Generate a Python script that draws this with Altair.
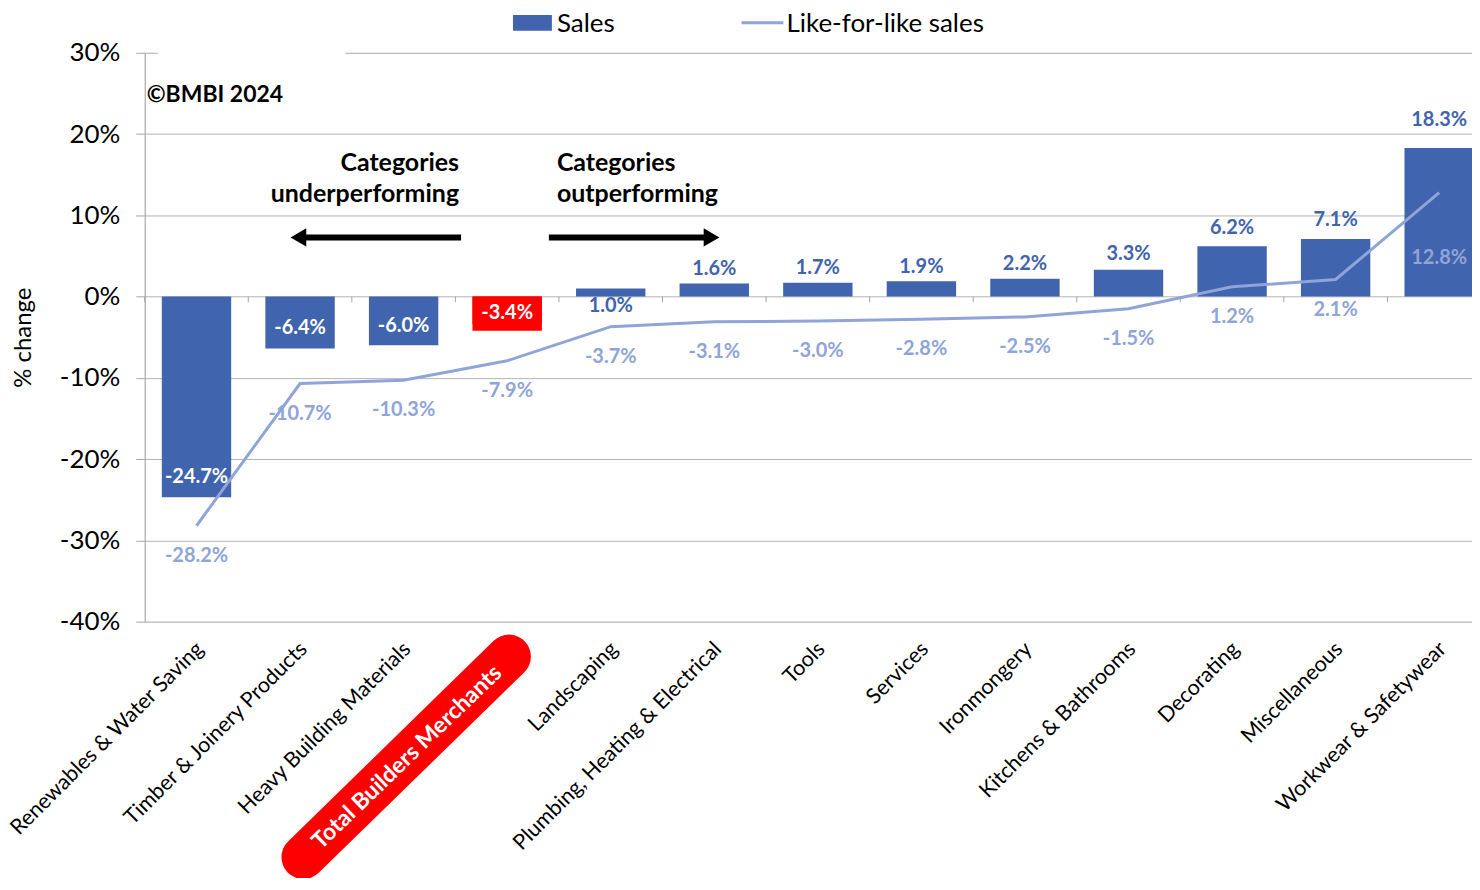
import altair as alt
import pandas as pd

categories = [
    "Renewables & Water Saving", "Timber & Joinery Products", "Heavy Building Materials",
    "Total Builders Merchants", "Landscaping", "Plumbing, Heating & Electrical", "Tools",
    "Services", "Ironmongery", "Kitchens & Bathrooms", "Decorating", "Miscellaneous",
    "Workwear & Safetywear",
]
sales = [-24.7, -6.4, -6.0, -3.4, 1.0, 1.6, 1.7, 1.9, 2.2, 3.3, 6.2, 7.1, 18.3]
lfl = [-28.2, -10.7, -10.3, -7.9, -3.7, -3.1, -3.0, -2.8, -2.5, -1.5, 1.2, 2.1, 12.8]
total_name = "Total Builders Merchants"

BAR = "#4064AE"
LINE = "#8FA4D8"
RED = "#FF0000"
FONT = "Lato"

df = pd.DataFrame({"cat": categories, "sales": sales, "lfl": lfl})
df["is_total"] = df["cat"] == total_name

xscale = alt.Scale(domain=categories, range=[0, 1349], paddingInner=0.33, paddingOuter=0.165)
yscale = alt.Scale(domain=[-40, 30], nice=False, zero=False)


def xplain():
    return alt.X("cat:N", scale=xscale, sort=categories, axis=None)


x_enc = alt.X("cat:N", scale=xscale, sort=categories, title=None,
              axis=alt.Axis(labelAngle=-45, labelAlign="right", labelBaseline="middle",
                            labelFont=FONT, labelFontSize=21.5, labelColor="black",
                            labelLimit=500, labelOverlap=False, labelPadding=24, labelOffset=4,
                            ticks=False, domain=False, grid=False,
                            labelExpr=f"datum.value == '{total_name}' ? '' : datum.value"))
y_enc = alt.Y("sales:Q", scale=yscale, title="% change",
              axis=alt.Axis(values=[-40, -30, -20, -10, 0, 10, 20, 30],
                            labelExpr="datum.value + '%'", labelFont=FONT, labelFontSize=26,
                            labelColor="black", labelPadding=16, tickSize=9, tickColor="#A6A6A6",
                            domainColor="#A6A6A6", gridColor="#B4B4B4", grid=True,
                            titleFont=FONT, titleFontSize=24, titleFontWeight="normal",
                            titleColor="black", titlePadding=24))

base = alt.Chart(df)

bars = base.mark_bar().encode(
    x=x_enc, y=y_enc, y2=alt.Y2(datum=0),
    color=alt.condition("datum.is_total", alt.value(RED), alt.value(BAR)),
)

# red label background for the total
total_bg = base.transform_filter("datum.is_total").mark_bar(color=RED).encode(
    x=xplain(),
    y=alt.Y(datum=0, scale=yscale), y2=alt.Y2(datum=-4.2),
)

line = base.mark_line(color=LINE, strokeWidth=3).encode(
    x=xplain(),
    y=alt.Y("lfl:Q", scale=yscale),
)

sales_lab = base.transform_calculate(
    ly="datum.sales < -10 ? datum.sales + 2.5 : (datum.sales < 0 ? datum.sales * 0.6 : (datum.sales < 1.5 ? -1.2 : datum.sales * 1.1 + 1.6))",
    txt="replace(format(datum.sales, '.1f'), '\u2212', '-') + '%'",
    inside="datum.sales < 0",
).mark_text(font=FONT, fontSize=20, fontWeight="bold", baseline="middle").encode(
    x=xplain(),
    y=alt.Y("ly:Q", scale=yscale),
    text="txt:N",
    color=alt.condition("datum.inside", alt.value("white"), alt.value(BAR)),
)

lfl_lab = base.transform_calculate(
    ly="datum.lfl > 10 ? datum.lfl - 8 : datum.lfl - 3.7",
    txt="replace(format(datum.lfl, '.1f'), '\u2212', '-') + '%'",
).mark_text(font=FONT, fontSize=20, fontWeight="bold", baseline="middle", color=LINE).encode(
    x=xplain(),
    y=alt.Y("ly:Q", scale=yscale),
    text="txt:N",
)

# category boundary ticks along the zero line
bscale = alt.Scale(domain=categories, range=[0, 1349], paddingInner=0, paddingOuter=0)
zero_ticks = base.mark_rule(color="#A6A6A6", strokeWidth=1).encode(
    x=alt.X("cat:N", scale=bscale, sort=categories, bandPosition=0, axis=None),
    y=alt.Y(datum=0, scale=yscale), y2=alt.Y2(datum=-0.7),
)

# Annotations (decorations, placed in pixels relative to plot origin)
def txt(s, x, y, align="left", size=24, weight="bold", color="black", angle=0):
    return alt.Chart(pd.DataFrame({"t": [s]})).mark_text(
        font=FONT, fontSize=size, fontWeight=weight, align=align, baseline="middle",
        color=color, angle=angle,
    ).encode(text="t:N", x=alt.value(x), y=alt.value(y))

one = pd.DataFrame({"a": [0]})
grid_gap = alt.Chart(one).mark_rule(color="white", strokeWidth=3).encode(
    x=alt.value(13), x2=alt.value(201), y=alt.value(0))
legend_rect = alt.Chart(one).mark_rect(color=BAR).encode(
    x=alt.value(369), x2=alt.value(408), y=alt.value(-38), y2=alt.value(-22))
legend_line = alt.Chart(one).mark_rule(color=LINE, strokeWidth=3).encode(
    x=alt.value(598), x2=alt.value(640), y=alt.value(-30))
leg_t1 = txt("Sales", 413, -29, weight="normal", size=26)
leg_t2 = txt("Like-for-like sales", 643, -29, weight="normal", size=26)

copy_t = txt("©BMBI 2024", 2, 42, size=23)
under1 = txt("Categories", 315, 110, align="right", size=25)
under2 = txt("underperforming", 315, 142, align="right", size=25)
out1 = txt("Categories", 413, 110, size=25)
out2 = txt("outperforming", 413, 142, size=25)

arrow_l = alt.Chart(one).mark_rule(color="black", strokeWidth=6).encode(
    x=alt.value(160), x2=alt.value(317), y=alt.value(185))
head_l = alt.Chart(one).mark_point(shape="triangle-left", filled=True, color="black",
                                   size=330, opacity=1).encode(x=alt.value(154), y=alt.value(185))
arrow_r = alt.Chart(one).mark_rule(color="black", strokeWidth=6).encode(
    x=alt.value(405), x2=alt.value(562), y=alt.value(185))
head_r = alt.Chart(one).mark_point(shape="triangle-right", filled=True, color="black",
                                   size=330, opacity=1).encode(x=alt.value(568), y=alt.value(185))

total_box = alt.Chart(one).mark_rule(color=RED, strokeWidth=44, strokeCap="round").encode(
    x=alt.value(365), y=alt.value(605), x2=alt.value(159), y2=alt.value(806))
total_txt = txt(total_name, 263, 706, align="center", size=23, color="white", angle=316)

chart = alt.layer(
    grid_gap, bars, total_bg, zero_ticks, line, sales_lab, lfl_lab,
    legend_rect, legend_line, leg_t1, leg_t2,
    copy_t, under1, under2, out1, out2,
    arrow_l, head_l, arrow_r, head_r,
    total_box, total_txt,
).resolve_scale(x="independent").properties(
    width=1330, height=570,
    autosize=alt.AutoSizeParams(type="none"),
    padding={"left": 137, "top": 44, "right": 0, "bottom": 256},
).configure_view(stroke=None).configure(background="white")

chart.save("out.html", embed_options={"renderer": "svg", "actions": False})
